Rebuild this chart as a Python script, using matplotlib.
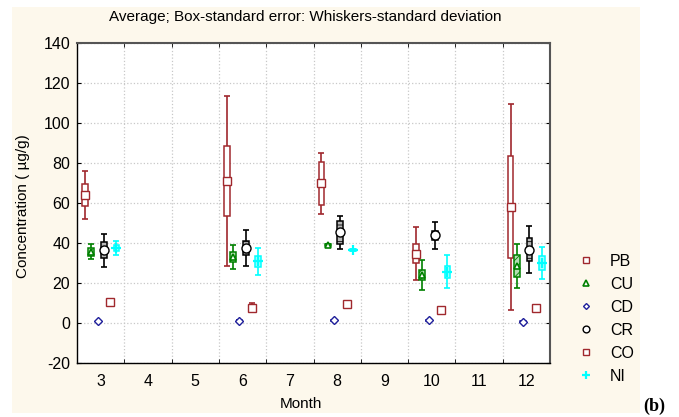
import matplotlib
matplotlib.use("Agg")
import matplotlib.pyplot as plt
from matplotlib.patches import Rectangle
import numpy as np

plt.rcParams['font.family'] = ['Liberation Sans', 'DejaVu Sans']
plt.rcParams['axes.unicode_minus'] = False
plt.rcParams['hatch.linewidth'] = 0.6

months = [3, 4, 5, 6, 7, 8, 9, 10, 11, 12]
data_months = [3, 6, 8, 10, 12]
elements = ["PB", "CU", "CD", "CR", "CO", "NI"]

# mean, standard error (box half-height), standard deviation (whisker half-length)
pb_mean = [64.0, 71.0, 69.8, 34.7, 57.9]
pb_se = [5.7, 17.4, 10.9, 4.8, 25.6]
pb_sd = [12.1, 42.6, 15.2, 13.3, 51.6]

cu_mean = [35.6, 33.0, 38.8, 24.0, 28.5]
cu_se = [2.0, 2.5, 0.5, 2.4, 5.6]
cu_sd = [3.7, 6.0, 0.8, 7.6, 11.0]

cd_mean = [1.0, 1.2, 1.3, 1.3, 0.7]
cd_se = [0.1, 0.1, 0.1, 0.1, 0.1]
cd_sd = [0.2, 0.2, 0.2, 0.2, 0.2]

cr_mean = [36.4, 37.5, 45.3, 43.8, 36.7]
cr_se = [3.9, 3.5, 5.9, 2.4, 5.8]
cr_sd = [8.2, 9.1, 8.3, 6.7, 11.7]

co_mean = [10.7, 7.7, 9.7, 6.4, 7.4]
co_se = [0.3, 0.8, 0.2, 0.3, 0.3]
co_sd = [0.5, 2.2, 0.3, 0.5, 0.5]

ni_mean = [37.5, 30.8, 36.5, 25.7, 29.9]
ni_se = [1.4, 2.9, 0.3, 3.0, 3.5]
ni_sd = [3.4, 6.7, 0.5, 8.2, 8.0]

means = [pb_mean, cu_mean, cd_mean, cr_mean, co_mean, ni_mean]
ses = [pb_se, cu_se, cd_se, cr_se, co_se, ni_se]
sds = [pb_sd, cu_sd, cd_sd, cr_sd, co_sd, ni_sd]

red = '#A0282D'
styles = [
    dict(line=red, face='white', hatch=None, marker='s', mfc='white', mec=red, ms=5.5, mew=1.0),
    dict(line='#008000', face='#B4DEB4', hatch='////', marker='^', mfc='white', mec='#008000', ms=5, mew=1.2),
    dict(line='#1E1E9A', face='white', hatch=None, marker='D', mfc='white', mec='#1E1E9A', ms=4, mew=1.0),
    dict(line='black', face='#B8B8B8', hatch='---', marker='o', mfc='white', mec='black', ms=6.5, mew=1.0),
    dict(line=red, face='white', hatch=None, marker='s', mfc='white', mec=red, ms=6, mew=1.0),
    dict(line='#00FFFF', face='#A0FFFF', hatch=None, marker='+', mfc='#00FFFF', mec='#00FFFF', ms=7, mew=1.6),
]

W, H = 679, 417
fig = plt.figure(figsize=(W / 100, H / 100), dpi=100, facecolor='white')
fig.patches.append(Rectangle((12 / W, 1 - 413 / H), (640 - 12) / W, (413 - 7) / H,
                             transform=fig.transFigure, facecolor='#FDF8EC',
                             edgecolor='none', zorder=-10))

ax = fig.add_axes([77 / W, 1 - 363 / H, (550 - 77) / W, (363 - 43) / H])
ax.set_facecolor('white')

spacing = 0.133
box_w = 0.12
x0 = np.array(data_months, dtype=float)
for i, el in enumerate(elements):
    st = styles[i]
    off = (i - 2.5) * spacing
    xs = x0 + off
    m = np.array(means[i])
    se = np.array(ses[i])
    sd = np.array(sds[i])
    ax.errorbar(xs, m, yerr=sd, fmt='none', ecolor=st['line'], elinewidth=1.2,
                capsize=2.2, capthick=1.2, zorder=3)
    ax.bar(xs, 2 * se, bottom=m - se, width=box_w, facecolor=st['face'],
           edgecolor=st['line'], linewidth=1.1, hatch=st['hatch'], zorder=4)
    ax.plot(xs, m, linestyle='none', marker=st['marker'], mfc=st['mfc'],
            mec=st['mec'], ms=st['ms'], mew=st['mew'], zorder=5, label=el)

ax.set_xlim(2.5, 12.5)
ax.set_ylim(-20, 140)
ax.set_yticks(np.arange(-20, 141, 20))
ax.set_xticks(months)
ax.set_xticklabels([str(m) for m in months])
ax.set_xticks(np.arange(3.5, 12.5, 1.0), minor=True)

ax.tick_params(axis='x', which='major', length=0, pad=8, labelsize=11.5)
ax.tick_params(axis='x', which='minor', direction='in', length=3, top=True, bottom=True, color='black')
ax.tick_params(axis='y', which='major', direction='in', length=3, left=True, right=True,
               labelsize=11.5, pad=5)
ax.grid(True, axis='y', which='major', color='#C8C8C8', linestyle=':', linewidth=0.9)
ax.grid(True, axis='x', which='minor', color='#C8C8C8', linestyle=':', linewidth=0.9)
ax.set_axisbelow(True)

for s in ['left', 'bottom']:
    ax.spines[s].set_color('black')
    ax.spines[s].set_linewidth(1.0)
for s in ['top', 'right']:
    ax.spines[s].set_color('#555555')
    ax.spines[s].set_linewidth(1.5)

fig.text(305 / W, 1 - 17 / H, "Average; Box-standard error: Whiskers-standard deviation",
         ha='center', va='center', fontsize=11)
fig.text(301 / W, 1 - 404 / H, "Month", ha='center', va='center', fontsize=11)
fig.text(23 / W, 1 - 206 / H, "Concentration ( \u00b5g/g)", ha='center', va='center',
         rotation=90, fontsize=11)
fig.text(654 / W, 1 - 406 / H, "(b)", ha='center', va='center', fontsize=13,
         fontweight='bold', family='Liberation Serif')

handles, labels = ax.get_legend_handles_labels()
leg = fig.legend(handles, labels, loc='upper left', bbox_to_anchor=(578 / W, 1 - 254 / H),
                 frameon=False, fontsize=11.5, handlelength=1.0, handletextpad=1.0,
                 labelspacing=0.5, borderpad=0, borderaxespad=0, markerscale=0.75)

fig.savefig('out.png', dpi=100, facecolor='white')
